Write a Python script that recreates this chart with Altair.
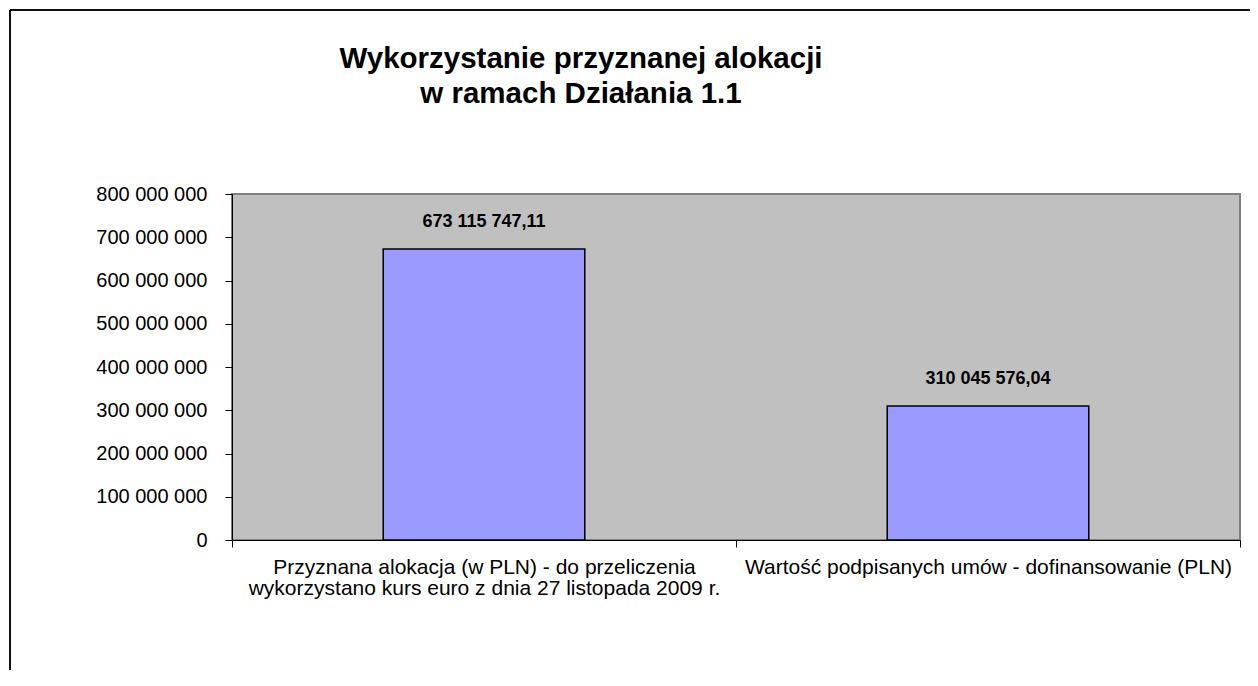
import altair as alt
import pandas as pd

categories = [
    "Przyznana alokacja (w PLN) - do przeliczenia|wykorzystano kurs euro z dnia 27 listopada 2009 r.",
    "Wartość podpisanych umów - dofinansowanie (PLN)",
]
values = [673115747.11, 310045576.04]
y_ticks = [0, 100000000, 200000000, 300000000, 400000000, 500000000, 600000000, 700000000, 800000000]

df = pd.DataFrame({"cat": categories, "value": values})

FONT = "Liberation Sans"

base = alt.Chart(df)

x_enc = alt.X(
    "cat:N",
    sort=categories,
    title=None,
    scale=alt.Scale(paddingInner=0, paddingOuter=0),
    axis=alt.Axis(
        labelAngle=0,
        labelExpr="split(datum.label, '|')",
        labelFont=FONT,
        labelFontSize=21,
        labelLineHeight=21,
        labelColor="#000000",
        labelLimit=700,
        labelPadding=9,
        labelOverlap=False,
        tickBand="extent",
        tickSize=7,
        tickColor="#000000",
        domainColor="#000000",
        domainWidth=1,
        grid=False,
    ),
)

y_enc = alt.Y(
    "value:Q",
    title=None,
    scale=alt.Scale(domain=[0, 800000000], nice=False),
    axis=alt.Axis(
        values=y_ticks,
        labelExpr="replace(format(datum.value, ','), regexp(',', 'g'), ' ')",
        labelFont=FONT,
        labelFontSize=20,
        labelColor="#000000",
        labelPadding=18,
        tickSize=7,
        tickColor="#000000",
        domainColor="#000000",
        domainWidth=1,
        grid=False,
    ),
)

bars = base.mark_bar(
    fill="#9999FF", stroke="#000000", strokeWidth=1.5,
    width=alt.RelativeBandSize(0.4),
).encode(x=x_enc, y=y_enc)

labels = base.transform_calculate(
    lbl="replace(replace(format(datum.value, ',.2f'), regexp(',', 'g'), ' '), '.', ',')"
).mark_text(
    font=FONT, fontSize=18, fontWeight="bold", color="#000000",
    baseline="middle", dy=-27,
).encode(x=alt.X("cat:N", sort=categories), y="value:Q", text="lbl:N")

border_top = base.mark_rule(color="#000000", strokeWidth=1.5).encode(
    x=alt.value(-222), x2=alt.value(1018), y=alt.value(-184)
)
border_left = base.mark_rule(color="#000000", strokeWidth=1.5).encode(
    x=alt.value(-222), y=alt.value(-184), y2=alt.value(476)
)

chart = alt.layer(bars, labels, border_top, border_left).properties(
    width=1008,
    height=346,
    autosize=alt.AutoSizeParams(type="none"),
    padding={"left": 224, "top": 186, "right": 10, "bottom": 130},
    title=alt.TitleParams(
        text=["Wykorzystanie przyznanej alokacji", "w ramach Działania 1.1"],
        font=FONT,
        fontSize=29.5,
        fontWeight="bold",
        lineHeight=35,
        anchor="middle",
        dx=-155,
        offset=-100,
        color="#000000",
    ),
).configure(background="#FFFFFF").configure_view(
    fill="#C0C0C0", stroke="#808080", strokeWidth=2
)

chart.save("out.html", embed_options={"renderer": "svg", "actions": False})
